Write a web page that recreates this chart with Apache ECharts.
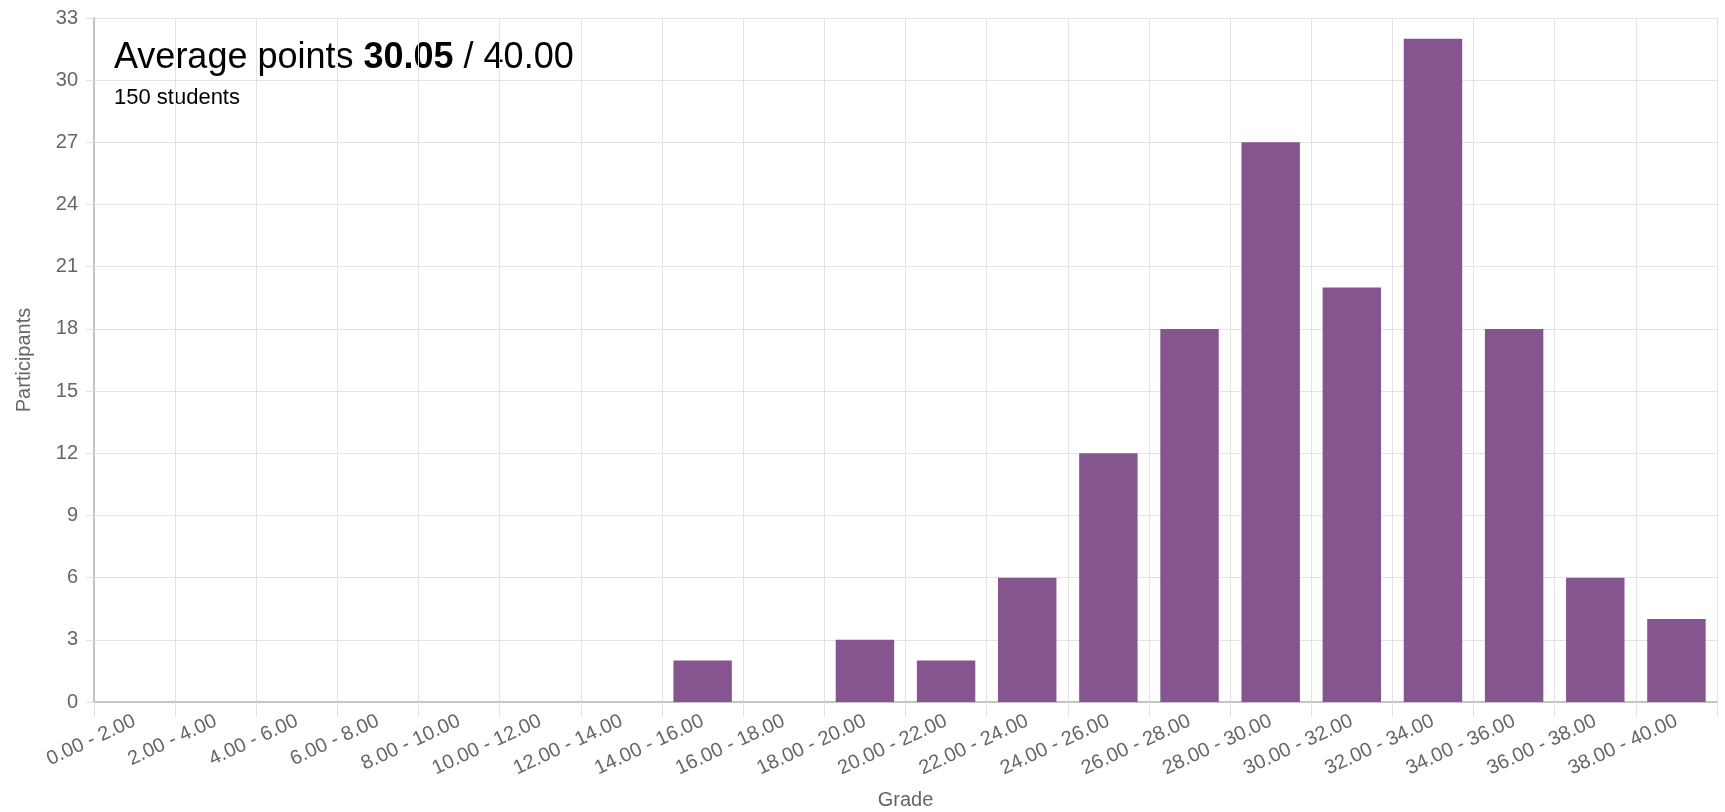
<!DOCTYPE html>
<html>
<head>
<meta charset="utf-8">
<title>Grade distribution</title>
<script src="https://cdn.jsdelivr.net/npm/echarts@6/dist/echarts.min.js"></script>
<style>
  html, body { margin: 0; padding: 0; background: #fff; }
  #chart { width: 1725px; height: 812px; }
</style>
</head>
<body>
<div id="chart"></div>
<script>
// Grade bands (points) and how many students fell in each
const gradeBands = [
  '0.00 - 2.00', '2.00 - 4.00', '4.00 - 6.00', '6.00 - 8.00', '8.00 - 10.00',
  '10.00 - 12.00', '12.00 - 14.00', '14.00 - 16.00', '16.00 - 18.00', '18.00 - 20.00',
  '20.00 - 22.00', '22.00 - 24.00', '24.00 - 26.00', '26.00 - 28.00', '28.00 - 30.00',
  '30.00 - 32.00', '32.00 - 34.00', '34.00 - 36.00', '36.00 - 38.00', '38.00 - 40.00'
];
const participants = [0, 0, 0, 0, 0, 0, 0, 2, 0, 3, 2, 6, 12, 18, 27, 20, 32, 18, 6, 4];

// Summary figures shown in the header
const averagePoints = '30.05';
const maxPoints = '40.00';
const studentCount = 150;

// Participant axis
const yMin = 0;
const yMax = 33;
const yStep = 3;

const FONT = '"Liberation Sans", Arial, Helvetica, sans-serif';
const AXIS_GREY = '#666666';
const GRID_GREY = '#e3e3e3';

const chart = echarts.init(document.getElementById('chart'), null, { renderer: 'canvas' });

chart.setOption({
  animation: false,
  textStyle: { fontFamily: FONT },
  grid: {
    left: 94, right: 8, top: 18, bottom: 110,
    containLabel: false,
    outerBoundsMode: 'none'
  },
  graphic: [
    {
      type: 'text',
      left: 114,
      top: 40,
      style: {
        text: '{n|Average points }{b|' + averagePoints + '}{n| / ' + maxPoints + '}',
        rich: {
          n: { fontSize: 36, fontFamily: FONT, fill: '#000', lineHeight: 42 },
          b: { fontSize: 36, fontFamily: FONT, fontWeight: 'bold', fill: '#000', lineHeight: 42 }
        }
      }
    },
    {
      type: 'text',
      left: 114,
      top: 85,
      style: {
        text: studentCount + ' students',
        fontSize: 22,
        fontFamily: FONT,
        fill: '#000',
        lineHeight: 26
      }
    }
  ],
  xAxis: {
    type: 'category',
    data: gradeBands,
    boundaryGap: true,
    name: 'Grade',
    nameLocation: 'middle',
    nameGap: 88,
    nameTextStyle: { fontSize: 20, color: AXIS_GREY, fontFamily: FONT },
    axisLine: { show: true, lineStyle: { color: '#c4c4c4', width: 2 } },
    axisTick: { show: true, length: 15, alignWithLabel: false, lineStyle: { color: GRID_GREY } },
    axisLabel: {
      interval: 0,
      rotate: 25,
      margin: 18,
      fontSize: 20,
      color: AXIS_GREY,
      fontFamily: FONT
    },
    splitLine: { show: true, lineStyle: { color: GRID_GREY, width: 1 } }
  },
  yAxis: {
    type: 'value',
    min: yMin,
    max: yMax,
    interval: yStep,
    name: 'Participants',
    nameLocation: 'middle',
    nameGap: 60,
    nameRotate: 90,
    nameTextStyle: { fontSize: 20, color: AXIS_GREY, fontFamily: FONT },
    axisLine: { show: true, lineStyle: { color: '#c4c4c4', width: 2 } },
    axisTick: { show: true, length: 8, lineStyle: { color: GRID_GREY } },
    axisLabel: { margin: 16, fontSize: 20, color: AXIS_GREY, fontFamily: FONT },
    splitLine: { show: true, lineStyle: { color: GRID_GREY, width: 1 } }
  },
  series: [
    {
      type: 'bar',
      data: participants,
      barCategoryGap: '28%',
      itemStyle: { color: '#86548f' }
    }
  ]
});
</script>
</body>
</html>
